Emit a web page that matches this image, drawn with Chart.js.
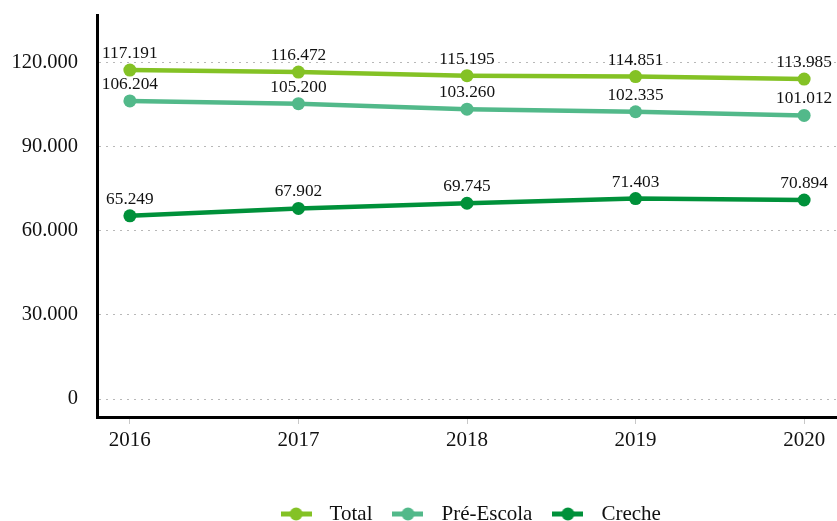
<!DOCTYPE html>
<html>
<head>
<meta charset="utf-8">
<script src="https://cdn.jsdelivr.net/npm/chart.js@4"></script>
<style>
    html, body { margin: 0; padding: 0; background: #fff; }
    #wrap { width: 837px; height: 521px; }
</style>
</head>
<body>
<div id="wrap"><canvas id="chart"></canvas></div>
<script>
const years = [2016, 2017, 2018, 2019, 2020];
const total = [117191, 116472, 115195, 114851, 113985];
const preEscola = [106204, 105200, 103260, 102335, 101012];
const creche = [65249, 67902, 69745, 71403, 70894];
const yTicks = [0, 30000, 60000, 90000, 120000];

const FONT = "'Liberation Serif', 'Times New Roman', serif";

function fmt(v) {
    return String(v).replace(/\B(?=(\d{3})+(?!\d))/g, ".");
}

// small line + dot used as legend marker
function legendMarker(color) {
    const c = document.createElement("canvas");
    c.width = 31;
    c.height = 14;
    const ctx = c.getContext("2d");
    ctx.strokeStyle = color;
    ctx.lineWidth = 5;
    ctx.beginPath();
    ctx.moveTo(0, 7);
    ctx.lineTo(31, 7);
    ctx.stroke();
    ctx.fillStyle = color;
    ctx.beginPath();
    ctx.arc(15.5, 7, 6.5, 0, Math.PI * 2);
    ctx.fill();
    return c;
}

function series(label, values, color) {
    return {
        label: label,
        data: values.map((v, i) => ({ x: years[i], y: v })),
        borderColor: color,
        backgroundColor: color,
        borderWidth: 4.5,
        pointRadius: 6.5,
        pointHoverRadius: 6.5,
        pointBorderWidth: 0,
        pointStyle: "circle",
        tension: 0
    };
}

const valueLabels = {
    id: "valueLabels",
    afterDatasetsDraw(chart) {
        const ctx = chart.ctx;
        ctx.save();
        ctx.font = "17.3px " + FONT;
        ctx.fillStyle = "#111";
        ctx.textAlign = "center";
        ctx.textBaseline = "alphabetic";
        chart.data.datasets.forEach((ds, di) => {
            chart.getDatasetMeta(di).data.forEach((pt, i) => {
                ctx.fillText(fmt(ds.data[i].y), pt.x, pt.y - 12);
            });
        });
        ctx.restore();
    }
};

const legendBox = {
    id: "legendBox",
    beforeInit(chart) {
        const fit = chart.legend.fit;
        chart.legend.fit = function () {
            fit.call(this);
            this.height = 30;
        };
    }
};

const datasets = [
    series("Total", total, "#84c225"),
    series("Pré-Escola", preEscola, "#52b98a"),
    series("Creche", creche, "#00913a")
];
const markers = datasets.map(ds => legendMarker(ds.borderColor));

new Chart(document.getElementById("chart"), {
    type: "line",
    data: { datasets: datasets },
    options: {
        responsive: true,
        maintainAspectRatio: false,
        animation: false,
        layout: { autoPadding: false, padding: { left: 10, top: 15, right: 0, bottom: 0 } },
        plugins: {
            tooltip: { enabled: false },
            legend: {
                position: "bottom",
                fullSize: false,
                labels: {
                    font: { family: FONT, size: 21 },
                    color: "#111",
                    usePointStyle: true,
                    pointStyleWidth: 46,
                    padding: 12.5,
                    generateLabels(chart) {
                        return chart.data.datasets.map((ds, i) => ({
                            text: ds.label,
                            pointStyle: markers[i],
                            fillStyle: ds.borderColor,
                            strokeStyle: ds.borderColor,
                            lineWidth: 0,
                            fontColor: "#111",
                            hidden: false,
                            datasetIndex: i
                        }));
                    }
                }
            }
        },
        scales: {
            x: {
                type: "linear",
                min: 2015.805,
                max: 2020.195,
                afterBuildTicks(axis) {
                    axis.ticks = years.map(v => ({ value: v }));
                },
                afterFit(scale) {
                    scale.height = 74;
                    scale.paddingLeft = 0;
                    scale.paddingRight = 0;
                },
                grid: {
                    drawOnChartArea: false,
                    color: "#c8c8c8",
                    tickLength: 7,
                    tickWidth: 1
                },
                border: { display: true, color: "#000", width: 3 },
                ticks: {
                    padding: 4,
                    maxRotation: 0,
                    font: { family: FONT, size: 21 },
                    color: "#111",
                    callback: v => String(v)
                }
            },
            y: {
                min: -6400,
                max: 136800,
                afterBuildTicks(axis) {
                    axis.ticks = yTicks.map(v => ({ value: v }));
                },
                afterFit(scale) {
                    scale.width = 87;
                    scale.paddingTop = 0;
                    scale.paddingBottom = 0;
                },
                grid: {
                    drawTicks: false,
                    color: "#b8b8b8",
                    lineWidth: 1
                },
                border: { display: true, color: "#000", width: 3, dash: [2, 5] },
                ticks: {
                    padding: 19,
                    font: { family: FONT, size: 20.5 },
                    color: "#111",
                    callback: v => fmt(v)
                }
            }
        }
    },
    plugins: [valueLabels, legendBox]
});
</script>
</body>
</html>
